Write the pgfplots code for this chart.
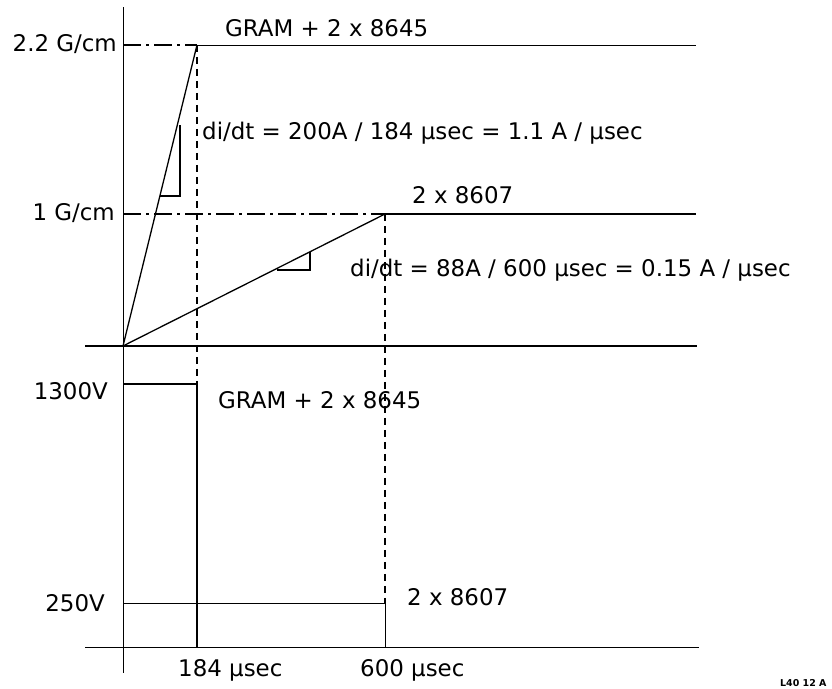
\documentclass[border=0pt]{standalone}
\usepackage{pgfplots}
\pgfplotsset{compat=1.18}
\usepackage{fontspec}
\setmainfont{DejaVu Sans}
\tikzset{lbl/.style={font=\fontsize{23}{27}\selectfont, inner sep=0pt}}
\begin{document}
\begin{tikzpicture}
\begin{axis}[
  width=832bp, height=689bp, scale only axis,
  at={(0,0)}, anchor=south west,
  xmin=-123, xmax=709, ymin=-42, ymax=647,
  hide axis, clip=false,
  cycle list={{black, line width=1.7bp, mark=none}},
]
% axes / baselines
\addplot coordinates {(0,-26) (0,640)};
\addplot coordinates {(-38,301) (574,301)};
\addplot coordinates {(-38,0) (576,0)};
% current levels
\addplot coordinates {(74,602) (573,602)};
\addplot coordinates {(262,433) (573,433)};
\addplot[black, line width=1.2bp, dash pattern=on 18bp off 5bp on 3bp off 5bp] coordinates {(0,602) (74,602)};
\addplot[black, line width=1.2bp, dash pattern=on 18bp off 5bp on 3bp off 5bp] coordinates {(0,433) (262,433)};
% ramps
\addplot[black, line width=1.3bp] coordinates {(0,301) (74,602)};
\addplot[black, line width=1.3bp] coordinates {(0,301) (262,433)};
% slope triangles
\addplot[black, line width=1.4bp] coordinates {(37,451) (57,451) (57,522)};
\addplot[black, line width=1.4bp] coordinates {(154,377) (187,377) (187,395)};
% dashed verticals
\addplot[black, line width=1.3bp, dash pattern=on 7bp off 5bp] coordinates {(74,602) (74,263)};
\addplot[black, line width=1.3bp, dash pattern=on 7bp off 5bp] coordinates {(262,433) (262,44)};
% voltage pulses
\addplot coordinates {(0,263) (74,263) (74,0)};
\addplot coordinates {(0,44) (262,44) (262,0)};
% labels
\node[lbl, anchor=base east] at (axis cs:-6,595) {2.2 G/cm};
\node[lbl, anchor=base east] at (axis cs:-8,426) {1 G/cm};
\node[lbl, anchor=base west] at (axis cs:102,610) {GRAM + 2 x 8645};
\node[lbl, anchor=base west] at (axis cs:79,507) {di/dt = 200A / 184 µsec = 1.1 A / µsec};
\node[lbl, anchor=base west] at (axis cs:289,443) {2 x 8607};
\node[lbl, anchor=base west] at (axis cs:227,370) {di/dt = 88A / 600 µsec = 0.15 A / µsec};
\node[lbl, anchor=base east] at (axis cs:-15,247) {1300V};
\node[lbl, anchor=base west] at (axis cs:95,238) {GRAM + 2 x 8645};
\node[lbl, anchor=base east] at (axis cs:-18,35) {250V};
\node[lbl, anchor=base west] at (axis cs:284,41) {2 x 8607};
\node[lbl, anchor=base west] at (axis cs:55,-30) {184 µsec};
\node[lbl, anchor=base west] at (axis cs:237,-30) {600 µsec};
\node[font=\fontsize{9.5}{10}\selectfont\bfseries, inner sep=0pt, anchor=base west] at (axis cs:657,-40) {L40 12 A};
\end{axis}
\pgfresetboundingbox
\useasboundingbox (0,0) rectangle (832bp,689bp);
\end{tikzpicture}
\end{document}
